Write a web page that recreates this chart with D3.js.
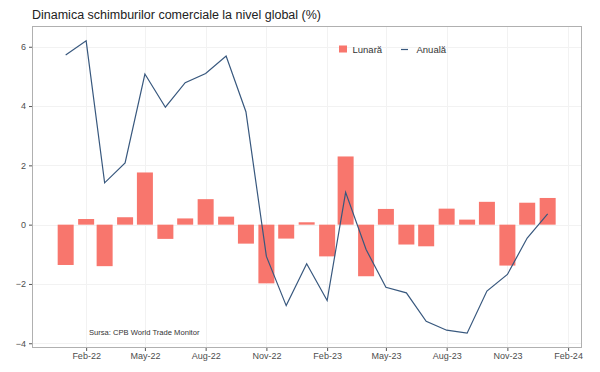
<!doctype html>
<html>
<head>
    <meta charset="utf-8">
    <style>
        body { margin: 0; background: #fff; }
        svg { display: block; font-family: "Liberation Sans", Arial, Helvetica, sans-serif; }
        .grid line { stroke: #f2f2f2; stroke-width: 1; shape-rendering: crispEdges; }
        .axis path { display: none; }
        .axis line { stroke: #555; }
        .axis text { font-size: 9px; fill: #4d4d4d; }
        .title { font-size: 12.5px; fill: #222; }
        .legend text { font-size: 9.5px; fill: #333; }
        .source { font-size: 7.6px; fill: #333; }
    </style>
    <script src="https://cdn.jsdelivr.net/npm/d3@7"></script>
</head>
<body>
<script>
    // months Jan-22 .. Jan-24
    const months = ['2022-01', '2022-02', '2022-03', '2022-04', '2022-05', '2022-06', '2022-07', '2022-08',
        '2022-09', '2022-10', '2022-11', '2022-12', '2023-01', '2023-02', '2023-03', '2023-04', '2023-05',
        '2023-06', '2023-07', '2023-08', '2023-09', '2023-10', '2023-11', '2023-12', '2024-01']

    // Lunara (monthly change, bars)
    const lunara = [-1.36, 0.19, -1.40, 0.25, 1.76, -0.48, 0.21, 0.86, 0.27, -0.64, -1.98, -0.47, 0.08,
        -1.07, 2.30, -1.74, 0.53, -0.67, -0.73, 0.54, 0.17, 0.77, -1.38, 0.74, 0.90]

    // Anuala (yearly change, line)
    const anuala = [5.72, 6.20, 1.41, 2.08, 5.08, 3.96, 4.79, 5.10, 5.69, 3.81, -1.07, -2.73, -1.32,
        -2.56, 1.09, -0.84, -2.11, -2.30, -3.26, -3.56, -3.66, -2.24, -1.68, -0.45, 0.36]

    const xTicks = ['2022-02', '2022-05', '2022-08', '2022-11', '2023-02', '2023-05', '2023-08', '2023-11', '2024-02']
    const yTicks = [-4, -2, 0, 2, 4, 6]

    const parseMonth = d3.timeParse('%Y-%m')
    const W = 600, H = 372
    const panel = {left: 32, right: 582, top: 26, bottom: 348}

    const data = months.map((m, i) => ({date: parseMonth(m), lun: lunara[i], an: anuala[i]}))

    const x = d3.scaleTime()
        .domain([new Date(2021, 10, 11), new Date(2024, 1, 22)])
        .range([panel.left, panel.right])
    const y = d3.scaleLinear()
        .domain([-4.16, 6.7])
        .range([panel.bottom, panel.top])

    const svg = d3.select('body').append('svg')
        .attr('width', W)
        .attr('height', H)

    // gridlines
    const grid = svg.append('g').attr('class', 'grid')
    grid.selectAll('.gy').data(yTicks).enter().append('line')
        .attr('x1', panel.left).attr('x2', panel.right)
        .attr('y1', d => Math.round(y(d)) + 0.5).attr('y2', d => Math.round(y(d)) + 0.5)
    grid.selectAll('.gx').data(xTicks.map(parseMonth)).enter().append('line')
        .attr('y1', panel.top).attr('y2', panel.bottom)
        .attr('x1', d => Math.round(x(d)) + 0.5).attr('x2', d => Math.round(x(d)) + 0.5)

    // bars
    const barW = 16
    svg.append('g').selectAll('rect').data(data).enter().append('rect')
        .attr('x', d => x(d.date) - barW / 2)
        .attr('width', barW)
        .attr('y', d => y(Math.max(0, d.lun)))
        .attr('height', d => Math.abs(y(d.lun) - y(0)))
        .attr('fill', '#f8766d')

    // line
    const line = d3.line().x(d => x(d.date)).y(d => y(d.an))
    svg.append('path')
        .datum(data)
        .attr('d', line)
        .attr('fill', 'none')
        .attr('stroke', '#38587e')
        .attr('stroke-width', 1.2)

    // panel border
    svg.append('rect')
        .attr('x', panel.left + 0.5).attr('y', panel.top + 0.5)
        .attr('width', panel.right - panel.left - 1).attr('height', panel.bottom - panel.top - 1)
        .attr('fill', 'none').attr('stroke', '#b0b0b0')

    // axes
    svg.append('g')
        .attr('class', 'axis')
        .attr('transform', `translate(0,${panel.bottom})`)
        .call(d3.axisBottom(x).tickValues(xTicks.map(parseMonth)).tickFormat(d3.timeFormat('%b-%y')).tickSize(3).tickPadding(2))
    svg.append('g')
        .attr('class', 'axis')
        .attr('transform', `translate(${panel.left},0)`)
        .call(d3.axisLeft(y).tickValues(yTicks).tickSize(3).tickPadding(3))

    // title
    svg.append('text')
        .attr('class', 'title')
        .attr('x', 32).attr('y', 19)
        .text('Dinamica schimburilor comerciale la nivel global (%)')

    // legend
    const lg = svg.append('g').attr('class', 'legend')
    lg.append('rect').attr('x', 339).attr('y', 45.5).attr('width', 8).attr('height', 7).attr('fill', '#f8766d')
    lg.append('text').attr('x', 352.5).attr('y', 52.5).text('Lunară')
    lg.append('line').attr('x1', 401).attr('x2', 408).attr('y1', 49.5).attr('y2', 49.5)
        .attr('stroke', '#38587e').attr('stroke-width', 1.2)
    lg.append('text').attr('x', 416.5).attr('y', 52.5).text('Anuală')

    // source
    svg.append('text')
        .attr('class', 'source')
        .attr('x', 89).attr('y', 335)
        .text('Sursa: CPB World Trade Monitor')
</script>
</body>
</html>
